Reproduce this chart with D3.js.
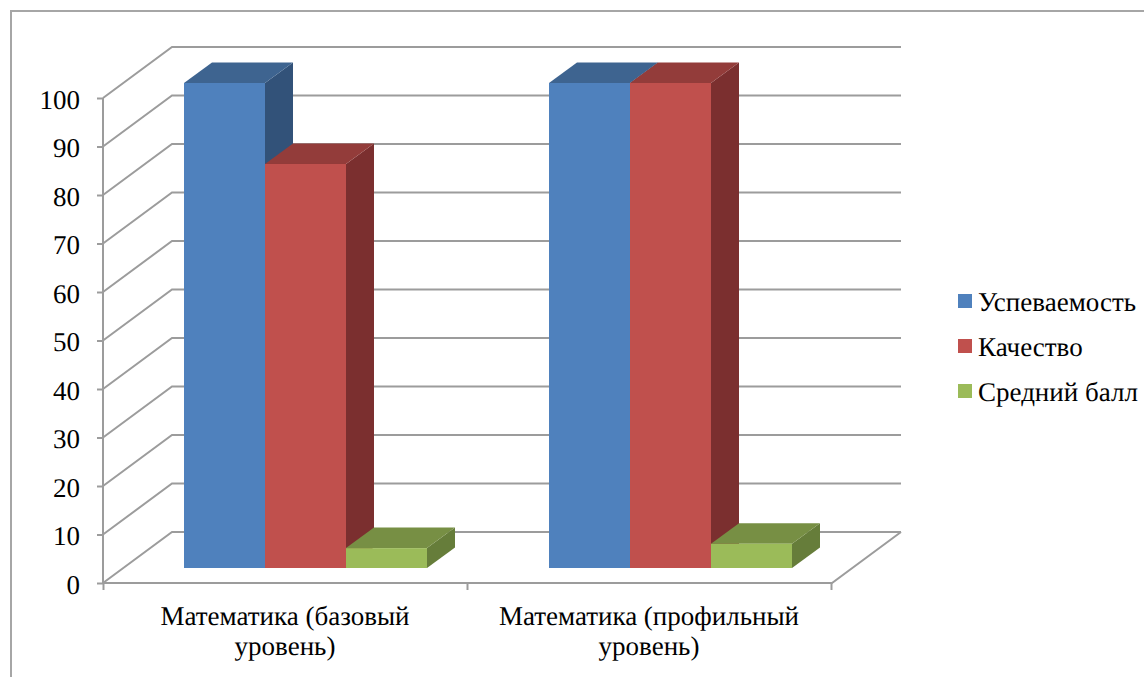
<!DOCTYPE html>
<html><head><meta charset="utf-8">
<script src="https://cdn.jsdelivr.net/npm/d3@7/dist/d3.min.js"></script>
<style>html,body{margin:0;padding:0;background:#fff}svg{display:block}text{font-family:"Liberation Serif",serif;fill:#000;text-rendering:geometricPrecision}</style>
</head><body><svg id="c" width="1144" height="677"></svg>
<script>
const categories = [["Математика (базовый","уровень)"],["Математика (профильный","уровень)"]];
const seriesNames = ["Успеваемость","Качество","Средний балл"];
const uspevaemost = [100,100];
const kachestvo = [83.3,100];
const sredniyBall = [4.1,5];
const yTicks = [0,10,20,30,40,50,60,70,80,90,100];
const frontColors = ["#4f81bd","#c0504d","#9bbb59"];
const topColors = ["#3e6490","#933c3a","#778f44"];
const sideColors = ["#325279","#7b2f2f","#667d3a"];
const values = [uspevaemost,kachestvo,sredniyBall];

const svg = d3.select("#c");
const grid = "#9c9c9c";
const y = d3.scaleLinear().domain([0,100]).range([583,98]);
const x0 = d3.scaleBand().domain([0,1]).range([103,833]);
const xs = d3.scaleBand().domain([0,1,2]).range([81,324]);
const wallDx = 69, wallDy = -51;   // back wall offset
const barDx = 28, barDy = -20.5, barLift = -15; // bar depth

// frame
svg.append("path").attr("d","M11,677V11H1144").attr("fill","none").attr("stroke","#a6a6a6").attr("stroke-width",2);

// grid
const g = svg.append("g").attr("fill","none").attr("stroke",grid).attr("stroke-width",2);
yTicks.forEach(t=>{
  const yy=y(t);
  g.append("path").attr("d",`M103,${yy}L${103+wallDx},${yy+wallDy}H901`);
});
g.append("path").attr("d",`M103,583H832L901,532`);

// axes
const yAxis = d3.axisLeft(y).tickValues(yTicks).tickSize(6).tickPadding(17).tickFormat(d3.format("d"));
const ya = svg.append("g").attr("transform","translate(103,0)").call(yAxis);
ya.selectAll("line").attr("stroke",grid).attr("stroke-width",2);
ya.select(".domain").attr("stroke",grid).attr("stroke-width",2).attr("d","M0,98V583");
ya.selectAll("text").attr("font-size",27).attr("dy",null).attr("y",10);

const xEdge = d3.scaleLinear().domain([0,2]).range([103,831]);
const xa = svg.append("g").attr("transform","translate(0,583)")
  .call(d3.axisBottom(xEdge).tickValues([0,1,2]).tickSize(7).tickFormat(""));
xa.selectAll("line").attr("stroke",grid).attr("stroke-width",2);
xa.select(".domain").remove();

// bars
values.forEach((vals,si)=>{
  vals.forEach((v,ci)=>{
    const l = x0(ci)+xs(si), w = xs.bandwidth(), r=l+w;
    const t = y(v)+barLift, b = y(0)+barLift;
    const gb = svg.append("g");
    gb.append("path").attr("fill",sideColors[si]).attr("d",`M${r},${t}L${r+barDx},${t+barDy}V${b+barDy}L${r},${b}Z`);
    gb.append("path").attr("fill",topColors[si]).attr("d",`M${l},${t}L${l+barDx},${t+barDy}H${r+barDx}L${r},${t}Z`);
    gb.append("rect").attr("x",l).attr("y",t).attr("width",w).attr("height",b-t).attr("fill",frontColors[si]);
  });
});

// category labels
categories.forEach((lines,ci)=>{
  const cx = [285,649][ci];
  lines.forEach((s,i)=>{
    svg.append("text").attr("x",cx).attr("y",625+i*30).attr("text-anchor","middle").attr("font-size",27).text(s);
  });
});

// legend
const legY = d3.scalePoint().domain(seriesNames).range([301,391]);
seriesNames.forEach((n,i)=>{
  const c = legY(n);
  svg.append("rect").attr("x",958).attr("y",c-7).attr("width",14).attr("height",14).attr("fill",frontColors[i]);
  svg.append("text").attr("x",978).attr("y",c+10).attr("font-size",27).text(n);
});
</script></body></html>
